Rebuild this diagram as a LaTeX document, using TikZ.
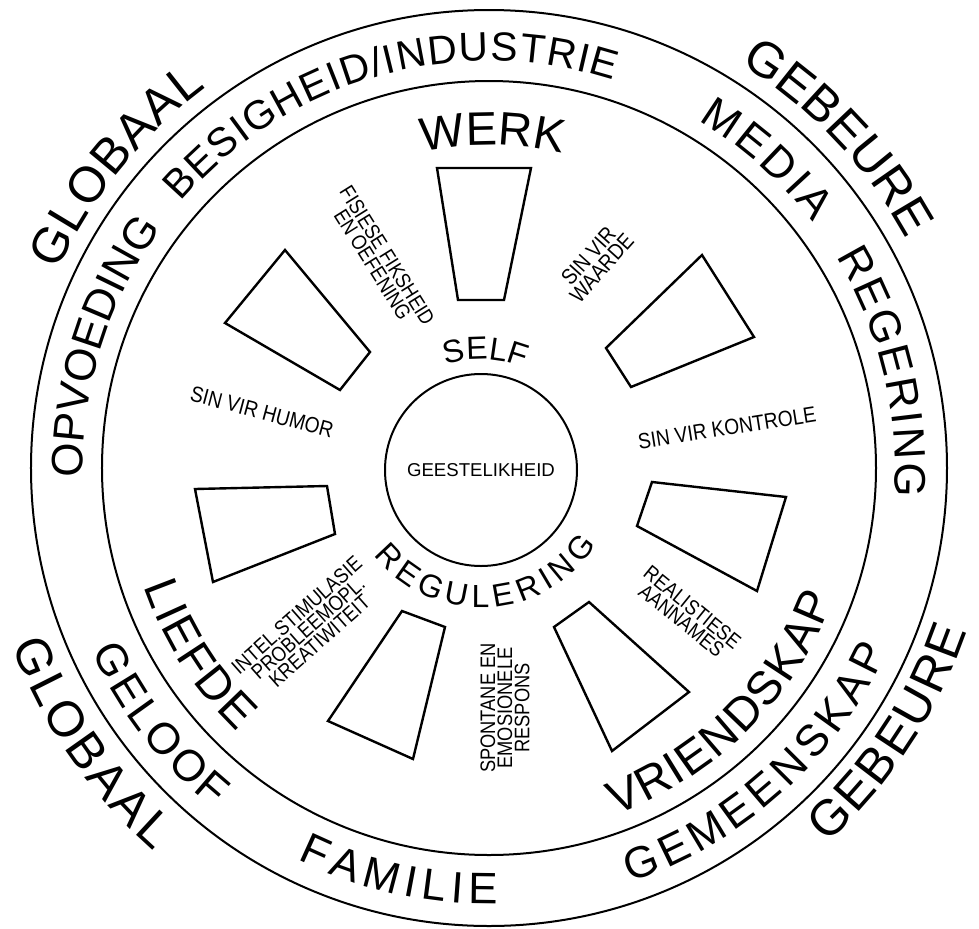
\documentclass[tikz,border=0pt]{standalone}
\usepackage{fontspec}
\setmainfont{Liberation Sans}
\newfontfamily\narrowfont[FakeStretch=0.87]{Liberation Sans}
\usetikzlibrary{decorations.text}

\newcommand\outerfont{\fontsize{25}{25}\selectfont}
\newcommand\ringfont{\fontsize{22}{22}\selectfont}
\newcommand\longfont{\fontsize{20.3}{20.3}\selectfont}
\newcommand\innerfont{\fontsize{23.5}{23.5}\selectfont}
\newcommand\selffont{\fontsize{16}{16}\selectfont}

\begin{document}
\begin{tikzpicture}[x=0.5pt,y=0.5pt,
    ring/.style={line width=1pt},
    box/.style={line width=1.2pt},
    small/.style={font=\narrowfont\fontsize{10.5}{8.6}\selectfont, align=center, inner sep=0pt},
    sinvir/.style={small, font=\narrowfont\fontsize{11}{9}\selectfont},
    arclabel/.style={decorate, decoration={text along path,
        text align={fit to path}, text={#1}}}]

\useasboundingbox (-489,-460) rectangle (490,468);

% Rings
\draw[ring] (0,0) circle (458);
\draw[ring] (0,0) circle (387);
\node[draw, circle, line width=1pt, minimum size=96pt, inner sep=0pt,
      font=\fontsize{9.3}{9.3}\selectfont] (core) at (-8,-2) {GEESTELIKHEID};

%========================
% Outside the rings
%========================
\path[arclabel={|\outerfont|GLOBAAL}] (155.4:474) arc[start angle=155.4, end angle=126.6, radius=474];
\path[arclabel={|\outerfont|GEBEURE}] (58.2:476) arc[start angle=58.2, end angle=28.7, radius=476];
\path[arclabel={|\outerfont|GEBEURE}] (-48:505) arc[start angle=-48, end angle=-18.8, radius=505];
\path[arclabel={|\outerfont|GLOBAAL}] (-159.6:509) arc[start angle=-159.6, end angle=-131.2, radius=509];

%========================
% Between the rings
%========================
\path[arclabel={|\longfont|BESIGHEID/INDUSTRIE}] (139.2:407) arc[start angle=139.2, end angle=72.2, radius=407];
\path[arclabel={|\ringfont|MEDIA}] (58.9:406) arc[start angle=58.9, end angle=37.2, radius=406];
\path[arclabel={|\ringfont|REGERING}] (31.3:406) arc[start angle=31.3, end angle=-4, radius=406];
\path[arclabel={|\ringfont|OPVOEDING}] (181.4:406) arc[start angle=181.4, end angle=144.2, radius=406];
\path[arclabel={|\ringfont|GEMEENSKAP}] (-71.2:438) arc[start angle=-71.2, end angle=-24.7, radius=438];
\path[arclabel={|\ringfont|FAMILIE}] (-116.1:436) arc[start angle=-116.1, end angle=-88.8, radius=436];
\path[arclabel={|\ringfont|GELOOF}] (-155.2:438) arc[start angle=-155.2, end angle=-129, radius=438];

%========================
% Inside the inner ring
%========================
\path[arclabel={|\innerfont|WERK}] (101.9:323) arc[start angle=101.9, end angle=78.7, radius=323];
\path[arclabel={|\innerfont|LIEFDE}] (-161:365) arc[start angle=-161, end angle=-133.6, radius=365];
\path[arclabel={|\innerfont|VRIENDSKAP}] (-70:369) arc[start angle=-70, end angle=-20.8, radius=369];

% round the core
\begin{scope}[shift={(core.center)}]
\path[arclabel={|\selffont|SELF}] (108.5:110.5) arc[start angle=108.5, end angle=67, radius=110.5];
\path[arclabel={|\selffont|REGULERING}] (-141.5:137.5) arc[start angle=-141.5, end angle=-33, radius=137.5];
\end{scope}

% Boxes
\draw[box] (-52,300) -- (42,300) -- (15,168) -- (-31,168) -- cycle;
\draw[box] (-204,218) -- (-119,116) -- (-149,78) -- (-264,145) -- cycle;
\draw[box] (213,213) -- (265,131) -- (142,81) -- (117,120) -- cycle;
\draw[box] (-294,-21) -- (-162,-18) -- (-154,-66) -- (-276,-114) -- cycle;
\draw[box] (163,-14) -- (297,-29) -- (268,-123) -- (148,-58) -- cycle;
\draw[box] (-87,-143) -- (-44,-159) -- (-76,-291) -- (-161,-253) -- cycle;
\draw[box] (100,-134) -- (200,-224) -- (123,-283) -- (65,-159) -- cycle;

% Small labels
\node[small, rotate=-58] (fisiese) at (-109,208) {FISIESE FIKSHEID\\EN OEFENING};
\node[sinvir, rotate=48] (waarde) at (106,206) {SIN VIR\\WAARDE};
\node[sinvir, rotate=-15] (humor) at (-227,56) {SIN VIR HUMOR};
\node[sinvir, rotate=9] (kontrole) at (238,40) {SIN VIR KONTROLE};
\node[small, rotate=41.5] (intel) at (-181,-160) {INTEL.STIMULASIE\\PROBLEEMOPL.\\KREATIWITEIT};
\node[small, rotate=90] (spontaan) at (16,-240) {SPONTANE EN\\EMOSIONELE\\RESPONS};
\node[small, rotate=-39] (realisties) at (198,-146) {REALISTIESE\\AANNAMES};

\end{tikzpicture}
\end{document}
